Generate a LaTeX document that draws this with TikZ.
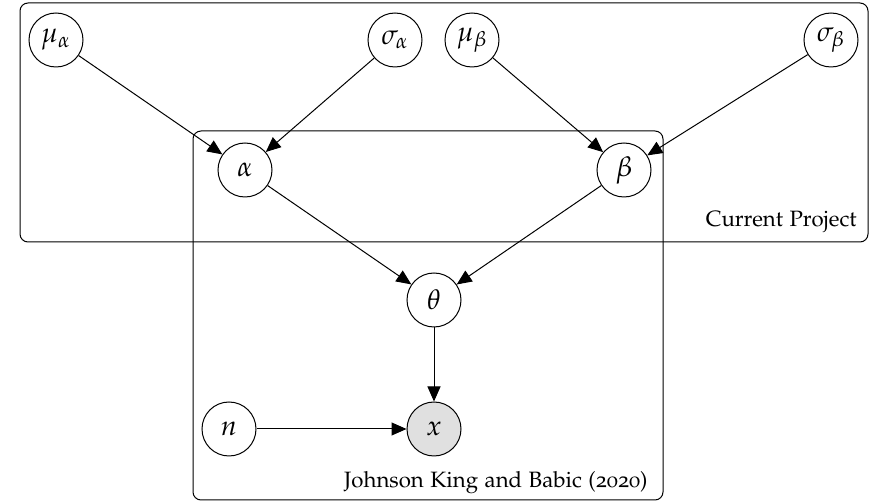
\documentclass[tikz,border=0pt]{standalone}
\usepackage[osf]{mathpazo}
\usetikzlibrary{arrows.meta}
\newcommand{\palfont}{\fontencoding{OT1}\fontfamily{pplj}\selectfont}
\begin{document}
\begin{tikzpicture}[x=0.5pt,y=-0.5pt,
  var/.style={circle,draw,line width=0.5pt,minimum size=27pt,inner sep=0pt,font=\fontsize{14}{16}\selectfont},
  obs/.style={var,fill=black!12},
  edge/.style={line width=0.5pt,-{Triangle[length=7.5pt,width=6.5pt]}},
  plate/.style={draw,line width=0.5pt,rounded corners=4pt},
  platelabel/.style={anchor=base east,inner sep=0pt,font=\fontsize{11.1}{13}\palfont}]
\useasboundingbox (0,0) rectangle (875,502);
\draw[plate] (20,3) rectangle (868,242);
\draw[plate] (193,131) rectangle (663,500);
\node[platelabel] (lcp) at (857,227) {Current Project};
\node[platelabel] (ljk) at (648,488) {Johnson King and Babic (2020)};
\node[var] (ma) at (56,40) {$\mu_\alpha$};
\node[var] (sa) at (395,40) {$\sigma_\alpha$};
\node[var] (mb) at (472,40) {$\mu_\beta$};
\node[var] (sb) at (831,40) {$\sigma_\beta$};
\node[var] (a) at (245,170) {$\alpha$};
\node[var] (b) at (624,170) {$\beta$};
\node[var] (t) at (434,300) {$\theta$};
\node[obs] (x) at (434,429) {$x$};
\node[var] (n) at (229,429) {$n$};
\draw[edge] (ma) -- (a);
\draw[edge] (sa) -- (a);
\draw[edge] (mb) -- (b);
\draw[edge] (sb) -- (b);
\draw[edge] (a) -- (t);
\draw[edge] (b) -- (t);
\draw[edge] (t) -- (x);
\draw[edge] (n) -- (x);
\end{tikzpicture}
\end{document}
